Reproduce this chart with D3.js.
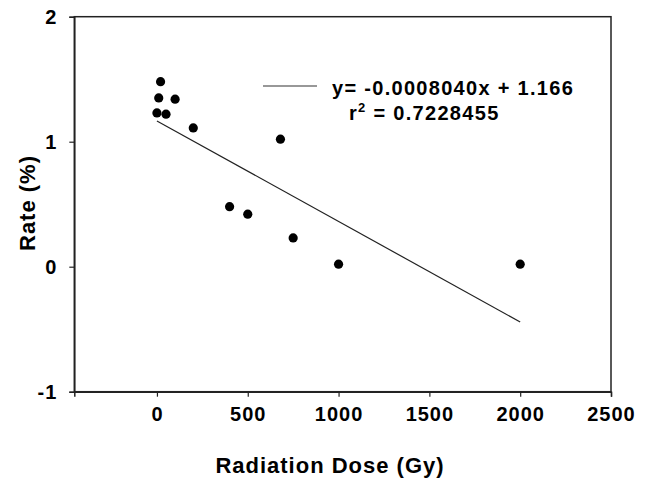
<!DOCTYPE html>
<html>
<head>
<meta charset="utf-8">
<script src="https://cdn.jsdelivr.net/npm/d3@7"></script>
<style>
  body { margin: 0; background: #fff; }
  svg { display: block; font-family: "Liberation Sans", Arial, sans-serif; font-weight: bold; }
</style>
</head>
<body>
<div id="chart"></div>
<script>
// dose (Gy) and rate (%)
const doses = [0, 10, 20, 50, 100, 200, 400, 500, 680, 750, 1000, 2000];
const rates = [1.23, 1.35, 1.48, 1.22, 1.34, 1.11, 0.48, 0.42, 1.02, 0.23, 0.02, 0.02];

const slope = -0.0008040;
const intercept = 1.166;
const fitRange = [0, 2000];

const xTicks = [0, 500, 1000, 1500, 2000, 2500];
const yTicks = [-1, 0, 1, 2];

const legendLines = ["y= -0.0008040x + 1.166", "r", " = 0.7228455"];

const width = 652;
const height = 482;
const margin = { top: 16.7, right: 41, bottom: 90.3, left: 74.3 };

const svg = d3.select("#chart")
  .append("svg")
  .attr("width", width)
  .attr("height", height);

const x = d3.scaleLinear()
  .domain([-455, 2500])
  .range([margin.left, width - margin.right]);

const y = d3.scaleLinear()
  .domain([-1, 2])
  .range([height - margin.bottom, margin.top]);

// frame
svg.append("rect")
  .attr("x", x.range()[0])
  .attr("y", y.range()[1])
  .attr("width", x.range()[1] - x.range()[0])
  .attr("height", y.range()[0] - y.range()[1])
  .attr("fill", "none")
  .attr("stroke", "#222")
  .attr("stroke-width", 1.5);

// plain hyphen for negatives, like the original
const fmt = d => String(d);

const xAxis = svg.append("g")
  .attr("transform", `translate(0,${y.range()[0]})`)
  .call(d3.axisBottom(x).tickValues(xTicks).tickSize(5).tickPadding(10).tickFormat(fmt));

const yAxis = svg.append("g")
  .attr("transform", `translate(${x.range()[0]},0)`)
  .call(d3.axisLeft(y).tickValues(yTicks).tickSize(5).tickPadding(12).tickFormat(fmt));

[xAxis, yAxis].forEach(g => {
  g.select(".domain").attr("stroke", "#222").attr("stroke-width", 1.5);
  g.selectAll(".tick line").attr("stroke", "#222").attr("stroke-width", 1.2);
  g.selectAll(".tick text")
    .attr("fill", "#000")
    .style("font-size", "20px")
    .style("font-weight", "bold")
    .style("font-family", "'Liberation Sans', Arial, sans-serif")
    .style("letter-spacing", "1px");
});

// regression line
const line = d3.line()
  .x(d => x(d))
  .y(d => y(slope * d + intercept));

svg.append("path")
  .datum(fitRange)
  .attr("fill", "none")
  .attr("stroke", "#222")
  .attr("stroke-width", 1.2)
  .attr("d", line);

// points
svg.append("g")
  .selectAll("circle")
  .data(doses.map((d, i) => [d, rates[i]]))
  .join("circle")
  .attr("cx", d => x(d[0]))
  .attr("cy", d => y(d[1]))
  .attr("r", 4.6)
  .attr("fill", "#000");

// legend
svg.append("line")
  .attr("x1", 263).attr("x2", 317)
  .attr("y1", 86).attr("y2", 86)
  .attr("stroke", "#333")
  .attr("stroke-width", 1.2);

svg.append("text")
  .attr("x", 332)
  .attr("y", 95)
  .style("font-size", "20px")
  .style("letter-spacing", "1.3px")
  .text(legendLines[0]);

const r2 = svg.append("text")
  .attr("x", 349)
  .attr("y", 120)
  .style("font-size", "20px")
  .style("letter-spacing", "1.3px");
r2.append("tspan").text(legendLines[1]);
r2.append("tspan").attr("dy", -8).style("font-size", "13px").text("2");
r2.append("tspan").attr("dy", 8).text(legendLines[2]);

// axis titles
svg.append("text")
  .attr("x", 330)
  .attr("y", 473)
  .attr("text-anchor", "middle")
  .style("font-size", "22px")
  .style("letter-spacing", "1px")
  .text("Radiation Dose (Gy)");

svg.append("text")
  .attr("transform", "translate(35,203) rotate(-90)")
  .attr("text-anchor", "middle")
  .style("font-size", "22px")
  .style("letter-spacing", "1px")
  .text("Rate (%)");
</script>
</body>
</html>
